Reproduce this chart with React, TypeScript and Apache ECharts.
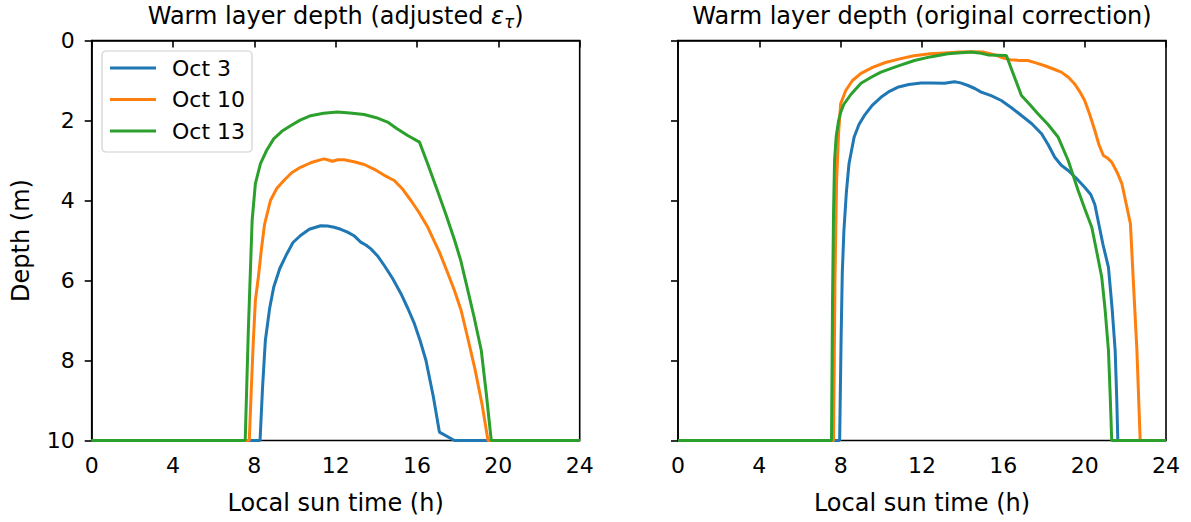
import React, { useEffect, useRef } from "react";
import * as echarts from "echarts";

const FONT = "DejaVu Sans";
const seriesNames = ["Oct 3", "Oct 10", "Oct 13"];
const colors = ["#1f77b4", "#ff7f0e", "#2ca02c"];
const xTicks = [0, 4, 8, 12, 16, 20, 24];
const yTicks = [0, 2, 4, 6, 8, 10];
const panelTitles = ["Warm layer depth (adjusted {e|ε}{s|τ})", "Warm layer depth (original correction)"];
const xLabel = "Local sun time (h)";
const yLabel = "Depth (m)";

// [local sun time (h), depth (m)] — adjusted epsilon_tau
const oct3Adjusted: [number, number][] = [
  [0, 10], [8.28, 10], [8.4, 8.7], [8.54, 7.5], [8.75, 6.7], [8.95, 6.17], [9.25, 5.7], [9.6, 5.33], [9.9, 5.05],
  [10.27, 4.875], [10.7, 4.72], [11.26, 4.63], [11.6, 4.64], [11.92, 4.67], [12.25, 4.72], [12.58, 4.79], [12.9, 4.88],
  [13.23, 5.04], [13.5, 5.12], [13.73, 5.21], [14.05, 5.38], [14.39, 5.625], [14.8, 5.95], [15.21, 6.33], [15.55, 6.7],
  [15.87, 7.08], [16.15, 7.5], [16.44, 8.0], [16.8, 8.9], [17.1, 9.79], [17.84, 10], [24, 10],
];
const oct10Adjusted: [number, number][] = [
  [0, 10], [7.75, 10], [7.85, 8.7], [7.95, 7.5], [8.05, 6.5], [8.2, 5.9], [8.35, 5.2], [8.5, 4.6], [8.79, 4.0],
  [9.1, 3.7], [9.45, 3.5], [9.85, 3.3], [10.27, 3.17], [10.8, 3.05], [11.42, 2.96], [11.6, 2.98], [11.84, 3.02],
  [12.1, 2.98], [12.41, 2.98], [12.9, 3.03], [13.4, 3.1], [13.9, 3.22], [14.39, 3.37], [14.88, 3.5], [15.3, 3.72],
  [15.7, 4.0], [16.1, 4.3], [16.53, 4.67], [17.1, 5.29], [17.5, 5.8], [17.84, 6.25], [18.17, 6.75], [18.5, 7.45],
  [18.83, 8.17], [19.2, 9.1], [19.49, 10], [24, 10],
];
const oct13Adjusted: [number, number][] = [
  [0, 10], [7.55, 10], [7.7, 7.3], [7.89, 4.5], [8.05, 3.58], [8.3, 3.08], [8.6, 2.75], [8.95, 2.46], [9.35, 2.27],
  [9.78, 2.13], [10.25, 1.99], [10.77, 1.88], [11.4, 1.82], [12.08, 1.79], [12.7, 1.81], [13.4, 1.85], [14.0, 1.93],
  [14.55, 2.04], [15.0, 2.2], [15.54, 2.375], [16.12, 2.54], [16.5, 3.05], [17.0, 3.75], [17.4, 4.32], [17.84, 4.98],
  [18.15, 5.5], [18.42, 6.08], [18.8, 6.9], [19.16, 7.75], [19.4, 8.8], [19.65, 10], [24, 10],
];

// original correction
const oct3Original: [number, number][] = [
  [0, 10], [7.95, 10], [8.02, 7.5], [8.08, 5.8], [8.16, 4.75], [8.28, 3.8], [8.41, 3.08], [8.66, 2.42], [8.9, 2.1],
  [9.16, 1.88], [9.55, 1.62], [9.98, 1.42], [10.4, 1.27], [10.8, 1.17], [11.35, 1.1], [11.95, 1.06], [12.5, 1.06],
  [13.1, 1.07], [13.6, 1.03], [13.9, 1.06], [14.26, 1.125], [14.6, 1.2], [14.91, 1.29], [15.4, 1.38], [15.9, 1.5],
  [16.4, 1.68], [16.89, 1.875], [17.4, 2.08], [17.88, 2.33], [18.2, 2.6], [18.53, 2.92], [18.85, 3.12], [19.19, 3.25],
  [19.6, 3.45], [20.0, 3.67], [20.3, 3.85], [20.5, 4.1], [20.68, 4.55], [20.9, 5.1], [21.17, 5.67], [21.35, 6.7],
  [21.5, 7.75], [21.58, 9.0], [21.63, 10], [24, 10],
];
const oct10Original: [number, number][] = [
  [0, 10], [7.65, 10], [7.72, 6.0], [7.8, 3.5], [7.9, 2.3], [8.0, 1.58], [8.25, 1.25], [8.58, 1.0], [9.0, 0.82],
  [9.57, 0.67], [10.2, 0.55], [10.9, 0.46], [11.6, 0.38], [12.4, 0.33], [13.1, 0.31], [13.88, 0.29], [14.5, 0.28],
  [15.03, 0.29], [15.35, 0.33], [15.7, 0.375], [16.0, 0.44], [16.35, 0.48], [16.8, 0.5], [17.2, 0.5], [17.6, 0.56],
  [18.0, 0.625], [18.4, 0.7], [18.85, 0.79], [19.2, 0.92], [19.5, 1.08], [19.75, 1.27], [20.0, 1.5], [20.25, 1.85],
  [20.5, 2.25], [20.7, 2.6], [20.92, 2.875], [21.1, 2.93], [21.33, 3.04], [21.6, 3.3], [21.83, 3.58], [22.05, 4.1],
  [22.25, 4.58], [22.4, 6.08], [22.57, 7.75], [22.73, 10], [24, 10],
];
const oct13Original: [number, number][] = [
  [0, 10], [7.55, 10], [7.6, 6.5], [7.65, 4.3], [7.7, 3.0], [7.78, 2.4], [7.9, 2.0], [8.0, 1.8], [8.15, 1.6],
  [8.5, 1.35], [9.0, 1.07], [9.5, 0.92], [9.98, 0.79], [10.8, 0.64], [11.63, 0.5], [12.4, 0.41], [13.27, 0.33],
  [14.42, 0.29], [14.8, 0.31], [15.24, 0.36], [16.15, 0.375], [16.5, 0.85], [16.89, 1.375], [17.3, 1.6], [17.7, 1.83],
  [18.2, 2.1], [18.7, 2.42], [19.19, 3.0], [19.68, 3.75], [20.0, 4.2], [20.35, 4.67], [20.6, 5.3], [20.84, 5.92],
  [21.0, 6.7], [21.17, 7.75], [21.25, 8.8], [21.33, 10], [24, 10],
];

const panels = [
  [oct3Adjusted, oct10Adjusted, oct13Adjusted],
  [oct3Original, oct10Original, oct13Original],
];

const GRID_TOP = 40.5;
const GRID_H = 400;
const GRID_LEFTS = [91.7, 678];
const GRID_W = 488;

export default function App() {
  const ref = useRef<HTMLDivElement>(null);
  useEffect(() => {
    if (!ref.current) return;
    const chart = echarts.init(ref.current, undefined, { renderer: "svg" });
    const axisLineStyle = { color: "#000", width: 1.6 };
    const grids = GRID_LEFTS.map((l) => ({
      left: l, top: GRID_TOP, width: GRID_W, height: GRID_H,
      show: true, borderColor: "#000", borderWidth: 1.6, backgroundColor: "transparent",
    }));
    const xAxes = GRID_LEFTS.map((_, i) => ({
      type: "value", gridIndex: i, min: xTicks[0], max: xTicks[xTicks.length - 1], interval: 4,
      axisLine: { show: true, lineStyle: axisLineStyle },
      axisTick: { show: true, length: 7, lineStyle: axisLineStyle },
      axisLabel: { color: "#000", fontSize: 22, fontFamily: FONT, margin: 14 },
      splitLine: { show: false },
      name: xLabel, nameLocation: "middle", nameGap: 50,
      nameTextStyle: { color: "#000", fontSize: 24, fontFamily: FONT },
    }));
    const yAxes = GRID_LEFTS.map((_, i) => ({
      type: "value", gridIndex: i, min: yTicks[0], max: yTicks[yTicks.length - 1], interval: 2, inverse: true,
      axisLine: { show: true, lineStyle: axisLineStyle },
      axisTick: { show: true, length: 7, lineStyle: axisLineStyle },
      axisLabel: { show: i === 0, color: "#000", fontSize: 22, fontFamily: FONT, margin: 17 },
      splitLine: { show: false },
      name: i === 0 ? yLabel : "", nameLocation: "middle", nameGap: 59,
      nameTextStyle: { color: "#000", fontSize: 24, fontFamily: FONT },
    }));
    const series: any[] = [];
    panels.forEach((panel, pi) => {
      panel.forEach((data, si) => {
        series.push({
          type: "line", name: seriesNames[si], xAxisIndex: pi, yAxisIndex: pi, data,
          showSymbol: false, symbol: "none", lineStyle: { color: colors[si], width: 3 },
          itemStyle: { color: colors[si] }, clip: true,
        });
      });
    });
    chart.setOption({
      animation: false,
      backgroundColor: "#fff",
      grid: grids,
      xAxis: xAxes,
      yAxis: yAxes,
      series,
      legend: {
        data: seriesNames.map((n) => ({ name: n, icon: "rect" })),
        orient: "vertical", left: 102, top: 51,
        itemWidth: 46, itemHeight: 3, itemGap: 9.5,
        padding: [6, 7, 10, 8],
        borderColor: "#d0d0d0", borderWidth: 1.2, borderRadius: 4,
        backgroundColor: "rgba(255,255,255,0.8)",
        textStyle: { color: "#000", fontSize: 22, fontFamily: FONT, lineHeight: 22, padding: [0, 0, 0, 11] },
        selectedMode: false,
      },
      graphic: GRID_LEFTS.map((l, i) => ({
        type: "text", x: l + GRID_W / 2, y: 16,
        style: {
          text: panelTitles[i], fill: "#000", fontSize: 24, fontFamily: FONT, lineHeight: 28,
          align: "center", verticalAlign: "middle",
          rich: {
            e: { fontSize: 24, fontStyle: "italic", fontFamily: FONT, lineHeight: 28, fill: "#000" },
            s: { fontSize: 17, fontStyle: "italic", fontFamily: FONT, lineHeight: 17, verticalAlign: "bottom", fill: "#000" },
          },
        },
      })),
    });
    return () => chart.dispose();
  }, []);
  return <div ref={ref} style={{ position: "absolute", left: 0, top: 0, width: 1191, height: 522 }} />;
}
